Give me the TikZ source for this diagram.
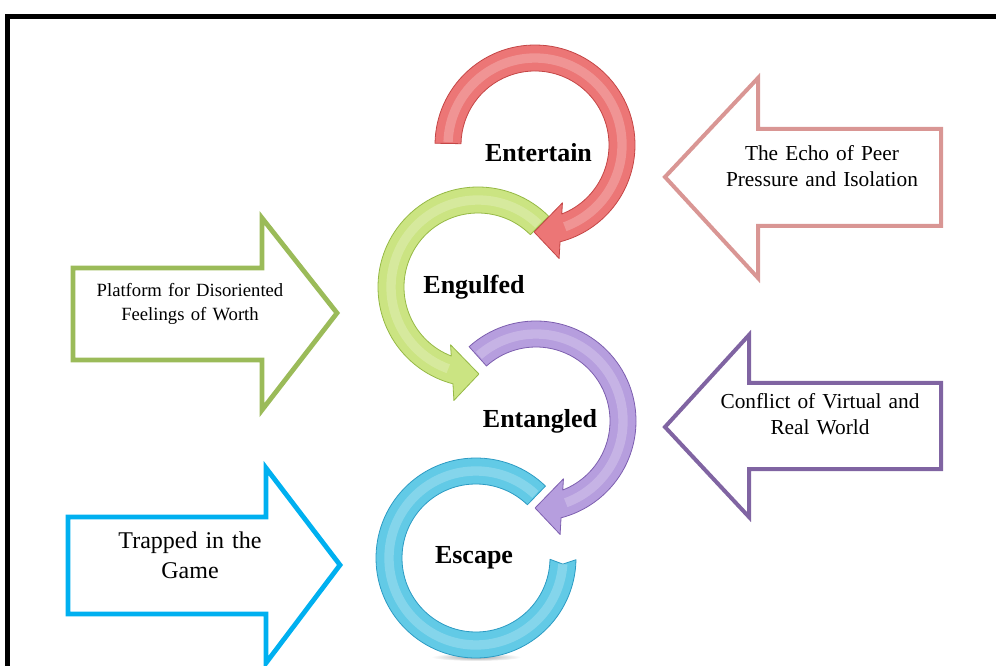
\documentclass[tikz,border=0pt]{standalone}
\usepackage{fontspec}
\setmainfont{Liberation Serif}
\definecolor{echoline}{RGB}{217,150,148}
\definecolor{worthline}{RGB}{155,187,89}
\definecolor{conflictline}{RGB}{128,100,162}
\definecolor{trapline}{RGB}{0,176,240}
\definecolor{entfill}{RGB}{236,118,118}
\definecolor{entedge}{RGB}{196,70,70}
\definecolor{engfill}{RGB}{203,228,130}
\definecolor{engedge}{RGB}{150,185,70}
\definecolor{tanfill}{RGB}{182,158,222}
\definecolor{tanedge}{RGB}{125,95,175}
\definecolor{escfill}{RGB}{98,202,230}
\definecolor{escedge}{RGB}{45,155,195}

\begin{document}
\begin{tikzpicture}[
			x=0.75pt, y=0.75pt,
			block/.style={line width=3pt, line join=miter},
			ring/.style={line width=0.6pt, line join=round},
			gloss/.style={white, opacity=.22, line width=7pt, line cap=butt},
			stage/.style={font=\fontsize{19.5}{23}\selectfont\bfseries,
			anchor=base, inner sep=0pt},
			cause/.style={align=center, text width=230pt, anchor=base, inner sep=0pt}
			]
			\useasboundingbox (0,0) rectangle (996,-666);
			% frame
			\draw[line width=3.75pt] (7.5,-666) -- (7.5,-16.5) -- (996,-16.5);
			% block arrows
			\draw[block, draw=echoline] (941,-129) -- (758,-129) -- (758,-78) -- (665,-177)
				-- (758,-278) -- (758,-226) -- (941,-226) -- cycle;
			\draw[block, draw=worthline, line width=3.6pt] (73,-268) -- (262,-268) -- (262,-218)
				-- (337,-313) -- (262,-410) -- (262,-360) -- (73,-360) -- cycle;
			\draw[block, draw=conflictline] (941,-383) -- (749,-383) -- (749,-335) -- (665,-427)
				-- (749,-517) -- (749,-469) -- (941,-469) -- cycle;
			\draw[block, draw=trapline, line width=3.6pt] (68,-517) -- (266,-517) -- (266,-468)
				-- (340,-565) -- (266,-663) -- (266,-614) -- (68,-614) -- cycle;
			% circular arrows
			\shade[inner color=gray!70, outer color=white] (476,-657) ellipse [x radius=45, y radius=4];
			\begin{scope}[shift={(476,-558)}]
				\filldraw[ring, fill=escfill, draw=escedge] (46:100) arc[start angle=46, end angle=359, radius=100]
					-- (356:87) -- (359:74) arc[start angle=359, end angle=46, radius=74] -- cycle;
				\draw[gloss] (47:87) arc[start angle=47, end angle=356, radius=87];
			\end{scope}
			\begin{scope}[shift={(536,-421)}]
				\filldraw[ring, fill=tanfill, draw=tanedge] (132:100) arc[start angle=132, end angle=-75.5, radius=100]
					-- (-78:116) -- (-90.6:87) -- (-64.6:64) -- (-68.8:74)
					arc[start angle=-68.8, end angle=132, radius=74] -- cycle;
				\draw[gloss] (131:87) arc[start angle=131, end angle=-70, radius=87];
			\end{scope}
			\begin{scope}[shift={(478,-287)}]
				\filldraw[ring, fill=engfill, draw=engedge] (45:100) arc[start angle=45, end angle=255.5, radius=100]
					-- (258:116) -- (270.6:87) -- (244.6:64) -- (248.8:74)
					arc[start angle=248.8, end angle=45, radius=74] -- cycle;
				\draw[gloss] (46:87) arc[start angle=46, end angle=250, radius=87];
			\end{scope}
			\begin{scope}[shift={(535,-145)}]
				\filldraw[ring, fill=entfill, draw=entedge] (179:100) arc[start angle=179, end angle=-75.5, radius=100]
					-- (-78:116) -- (-90.6:87) -- (-64.6:64) -- (-68.8:74)
					arc[start angle=-68.8, end angle=179, radius=74] -- cycle;
				\draw[gloss] (178:87) arc[start angle=178, end angle=-70, radius=87];
			\end{scope}
			% labels
			\node[stage] (entertain) at (538.5,-162) {Entertain};
			\node[stage] (engulfed) at (474,-294) {Engulfed};
			\node[stage] (entangled) at (540,-428) {Entangled};
			\node[stage] (escape) at (474,-563) {Escape};
			\node[cause, font=\fontsize{16}{19.5}\selectfont] (echo) at (822,-161)
				{The Echo of Peer\\ Pressure and Isolation};
			\node[cause, font=\fontsize{14}{18}\selectfont] (platform) at (190,-297)
				{Platform for Disoriented\\ Feelings of Worth};
			\node[cause, font=\fontsize{16}{19.5}\selectfont] (conflict) at (820,-409)
				{Conflict of Virtual and\\ Real World};
			\node[cause, font=\fontsize{18}{23}\selectfont] (trapped) at (190,-548)
				{Trapped in the\\ Game};
		\end{tikzpicture}
\end{document}
